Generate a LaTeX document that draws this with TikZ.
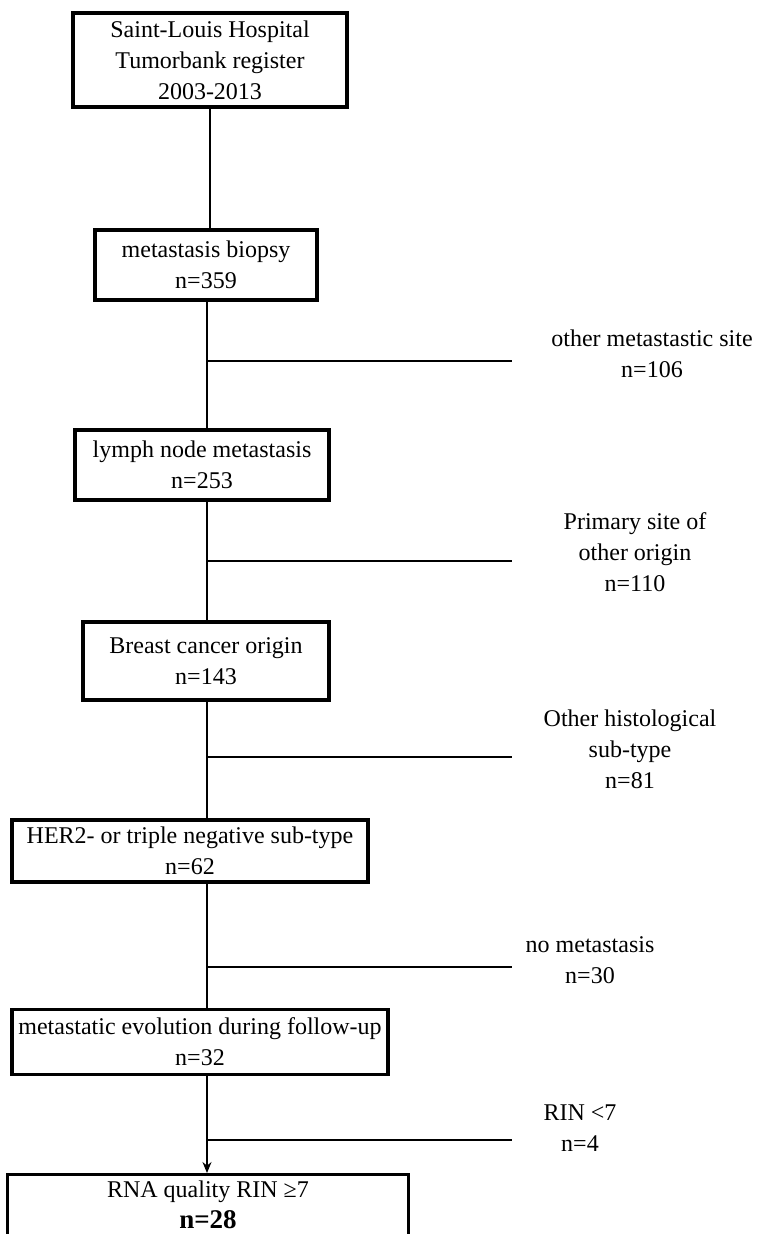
\documentclass[tikz,border=0pt]{standalone}
\usepackage{fontspec}
\setmainfont{Liberation Serif}
\usetikzlibrary{arrows.meta}
\begin{document}
\begin{tikzpicture}[x=1pt,y=-1pt,
  box/.style={draw,line width=3.2pt,align=center,inner sep=0pt,font=\fontsize{24}{31}\selectfont},
  lbl/.style={align=center,inner sep=0pt,font=\fontsize{24}{31}\selectfont},
  conn/.style={line width=1.5pt}]
\useasboundingbox (0,0) rectangle (764,1234);
\node[box,minimum width=274pt,minimum height=94pt] (b1) at (210,60) {Saint-Louis Hospital\\Tumorbank register\\2003-2013};
\node[box,minimum width=222pt,minimum height=70pt] (b2) at (206,265) {metastasis biopsy\\n=359};
\node[box,minimum width=254pt,minimum height=70pt] (b3) at (202,465) {lymph node metastasis\\n=253};
\node[box,minimum width=246pt,minimum height=78pt] (b4) at (206,661) {Breast cancer origin\\n=143};
\node[box,minimum width=356pt,minimum height=62pt] (b5) at (190,851) {HER2- or triple negative sub-type\\n=62};
\node[box,minimum width=376pt,minimum height=65pt] (b6) at (200,1042) {metastatic evolution during follow-up\\n=32};
\node[box,minimum width=401pt,minimum height=70pt,anchor=north] (b7) at (208,1173) {};
\node[lbl,anchor=north] (t7) at (208,1181) {RNA quality RIN ≥7\\\fontsize{27}{32}\selectfont\bfseries n=28};

\coordinate (s1) at (207,361); \coordinate (e1) at (512,361);
\coordinate (s2) at (207,561); \coordinate (e2) at (512,561);
\coordinate (s3) at (207,757); \coordinate (e3) at (512,757);
\coordinate (s4) at (207,967); \coordinate (e4) at (512,967);
\coordinate (s5) at (207,1140); \coordinate (e5) at (512,1140);

\node[lbl] (l1) at (652,354) {other metastastic site\\n=106};
\node[lbl] (l2) at (635,552) {Primary site of\\other origin\\n=110};
\node[lbl] (l3) at (630,749) {Other histological\\sub-type\\n=81};
\node[lbl] (l4) at (590,960) {no metastasis\\n=30};
\node[lbl] (l5) at (580,1128) {RIN <7\\n=4};

\draw[conn] (b1.south) -- (b2.north -| b1.south);
\draw[conn] (b2.south -| s1) -- (b3.north -| s1);
\draw[conn] (b3.south -| s2) -- (b4.north -| s2);
\draw[conn] (b4.south -| s3) -- (b5.north -| s3);
\draw[conn] (b5.south -| s4) -- (b6.north -| s4);
\draw[conn,-{Stealth[length=11pt,width=9pt]}] (b6.south -| s5) -- (b7.north -| s5);
\draw[conn] (s1) -- (e1);
\draw[conn] (s2) -- (e2);
\draw[conn] (s3) -- (e3);
\draw[conn] (s4) -- (e4);
\draw[conn] (s5) -- (e5);
\end{tikzpicture}
\end{document}
